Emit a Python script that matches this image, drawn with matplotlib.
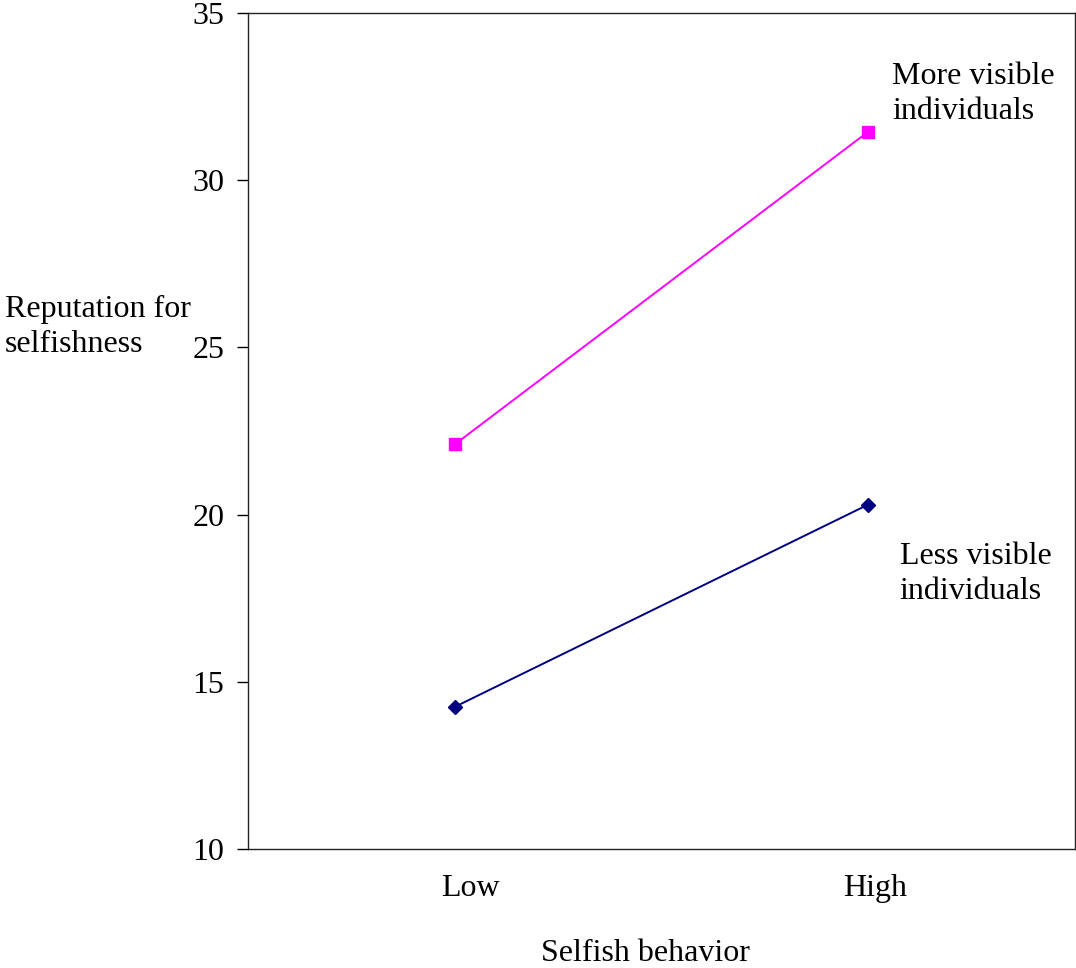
import matplotlib
matplotlib.use('Agg')
import matplotlib.pyplot as plt
import matplotlib.transforms as mtransforms

# values
categories = ['Low', 'High']
more_visible = [22.1, 31.45]
less_visible = [14.25, 20.3]
y_ticks = [10, 15, 20, 25, 30, 35]

plt.rcParams['font.family'] = ['Liberation Serif', 'DejaVu Serif']
fs = 23
ls = 1.25

fig = plt.figure(figsize=(10.76, 9.68), dpi=100, facecolor='white')
ax = fig.add_axes([0.2305, 0.1229, 0.7685, 0.8637])

x = list(range(len(categories)))
ax.plot(x, more_visible, color='#FF00FF', marker='s', markersize=8, linewidth=1.4)
ax.plot(x, less_visible, color='#000080', marker='D', markersize=7.5, linewidth=1.4)

ax.set_xlim(-0.5, 1.5)
ax.set_ylim(10, 35)
ax.set_yticks(y_ticks)
ax.tick_params(axis='y', direction='out', length=8, width=1, pad=9, labelsize=fs)
ax.set_xticks(x)
ax.set_xticklabels(categories)
ax.tick_params(axis='x', length=0, pad=18, labelsize=fs)
# labels sit a bit right of the points in the original
for lbl, dx in zip(ax.get_xticklabels(), [16, 7]):
    lbl.set_transform(lbl.get_transform() +
                      mtransforms.ScaledTranslation(dx / 100, 0, fig.dpi_scale_trans))
for s in ax.spines.values():
    s.set_linewidth(1)
    s.set_color('#222222')

ax.text(0.779, 0.903, 'More visible\nindividuals', transform=ax.transAxes,
        fontsize=fs, ha='left', va='center', linespacing=ls)
ax.text(0.788, 0.329, 'Less visible\nindividuals', transform=ax.transAxes,
        fontsize=fs, ha='left', va='center', linespacing=ls)

fig.text(5 / 1076, 1 - 327 / 968, 'Reputation for\nselfishness', fontsize=fs,
         ha='left', va='center', linespacing=ls)
fig.text(645 / 1076, 1 - 961 / 968, 'Selfish behavior', fontsize=fs,
         ha='center', va='baseline')

fig.savefig('out.png', dpi=100, facecolor='white')
